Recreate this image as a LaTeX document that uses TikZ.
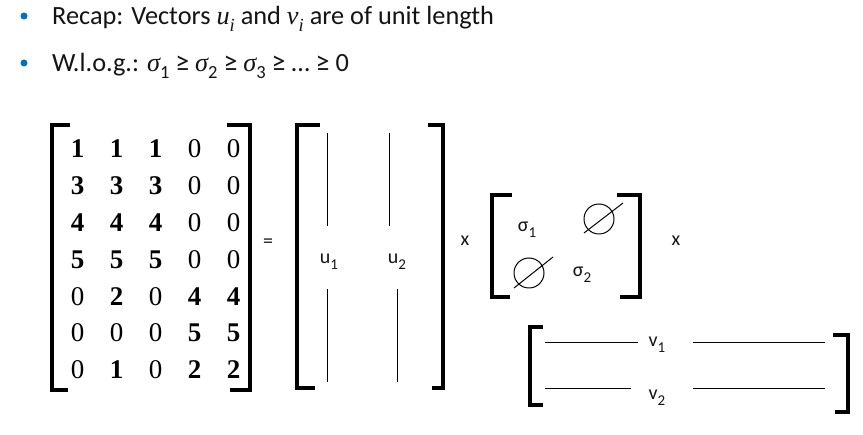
\documentclass[tikz,border=0pt]{standalone}
\usepackage{fontspec}
\setmainfont{Carlito}
\newfontfamily\timesfont{Liberation Serif}
\usepackage{tikz}
\usetikzlibrary{positioning,calc}
\usepackage{xcolor}
\definecolor{bulletblue}{RGB}{0,112,192}
\definecolor{textgray}{RGB}{20,20,20}
\newcommand{\bnum}[1]{\textbf{#1}}
\newcommand{\mvar}[1]{{\timesfont\itshape #1}}
\newcommand{\bigsub}[1]{\raisebox{-0.25em}{\fontsize{18.5}{18.5}\selectfont #1}}
\newcommand{\lsub}[1]{\raisebox{-0.28em}{\fontsize{15}{15}\selectfont #1}}
\newcommand{\geqsign}{{\fontsize{28}{28}\selectfont ≥}}

\tikzset{
	bracket/.style={line width=3.6pt},
	vline/.style={line width=1pt},
	entry/.style={font=\timesfont\fontsize{27}{27}\selectfont, inner sep=0pt},
	lbl/.style={font=\fontsize{20}{20}\selectfont, inner sep=0pt, text=textgray},
	bul/.style={circle, fill=bulletblue, inner sep=0pt, minimum size=7pt},
	line/.style={font=\fontsize{26.3}{30}\selectfont, inner sep=0pt, anchor=base west, text=textgray}
}

\begin{document}
\begin{tikzpicture}[x=1pt,y=-1pt]
	\useasboundingbox (0,0) rectangle (863,435);
	% bullets
	\node[bul] (b1) at (24,16) {};
	\node[bul] (b2) at (24,63) {};
	\node[line] (t1) at (52,25) {Recap: Vectors \mvar{u}\bigsub{\mvar{i}} and \mvar{v}\bigsub{\mvar{i}} are of unit length};
	\node[line] (t2) at (52,72) {W.l.o.g.: \mvar{σ}\bigsub{1} \geqsign{} \mvar{σ}\bigsub{2} \geqsign{} \mvar{σ}\bigsub{3} \geqsign{} … \geqsign{} 0};
	% data matrix
	\draw[bracket] (70,125) -- (52,125) -- (52,390) -- (68,390);
	\draw[bracket] (227,125) -- (250,125) -- (250,390) -- (230,390);
	\foreach \row [count=\r] in {{\bnum1,\bnum1,\bnum1,0,0},{\bnum3,\bnum3,\bnum3,0,0},
		{\bnum4,\bnum4,\bnum4,0,0},{\bnum5,\bnum5,\bnum5,0,0},{0,\bnum2,0,\bnum4,\bnum4},
		{0,0,0,\bnum5,\bnum5},{0,\bnum1,0,\bnum2,\bnum2}}
	{
		\foreach \v [count=\c] in \row
			\node[entry] (m-\r-\c) at ({38.5+39*\c},{112.2+36.8*\r}) {\v};
	}
	\node[lbl] (eq) at (268,243) {=};
	% U
	\draw[bracket] (320,125) -- (297,125) -- (297,388) -- (315,388);
	\draw[bracket] (428,125) -- (443,125) -- (443,388) -- (432,388);
	\node[lbl] (u1) at (329,262) {u\lsub{1}};
	\node[lbl] (u2) at (397,262) {u\lsub{2}};
	\draw[vline] (327,133) -- (327,226);
	\draw[vline] (327,289) -- (327,382);
	\draw[vline] (389,133) -- (389,226);
	\draw[vline] (397,289) -- (397,382);
	\node[lbl] (x1) at (465,241) {x};
	% Sigma
	\draw[bracket] (512,195) -- (492,195) -- (492,297) -- (510,297);
	\draw[bracket] (617,195) -- (640,195) -- (640,297) -- (620,297);
	\node[lbl] (s1) at (527,230) {σ\lsub{1}};
	\node[lbl] (s2) at (582,275) {σ\lsub{2}};
	\draw[vline] (599,219) circle (15);
	\draw[vline] (584,233) -- (623,203);
	\draw[vline] (529,273) circle (15);
	\draw[vline] (514,288) -- (553,257);
	\node[lbl] (x2) at (676,241) {x};
	% V
	\draw[bracket] (543,327) -- (530,327) -- (530,405) -- (543,405);
	\draw[bracket] (833,335) -- (848,335) -- (848,412) -- (835,412);
	\node[lbl] (v1) at (657,345) {v\lsub{1}};
	\node[lbl] (v2) at (657,398) {v\lsub{2}};
	\draw[vline] (545,343) -- (638,343);
	\draw[vline] (693,343) -- (825,343);
	\draw[vline] (545,389) -- (631,389);
	\draw[vline] (693,389) -- (825,389);
\end{tikzpicture}
\end{document}
